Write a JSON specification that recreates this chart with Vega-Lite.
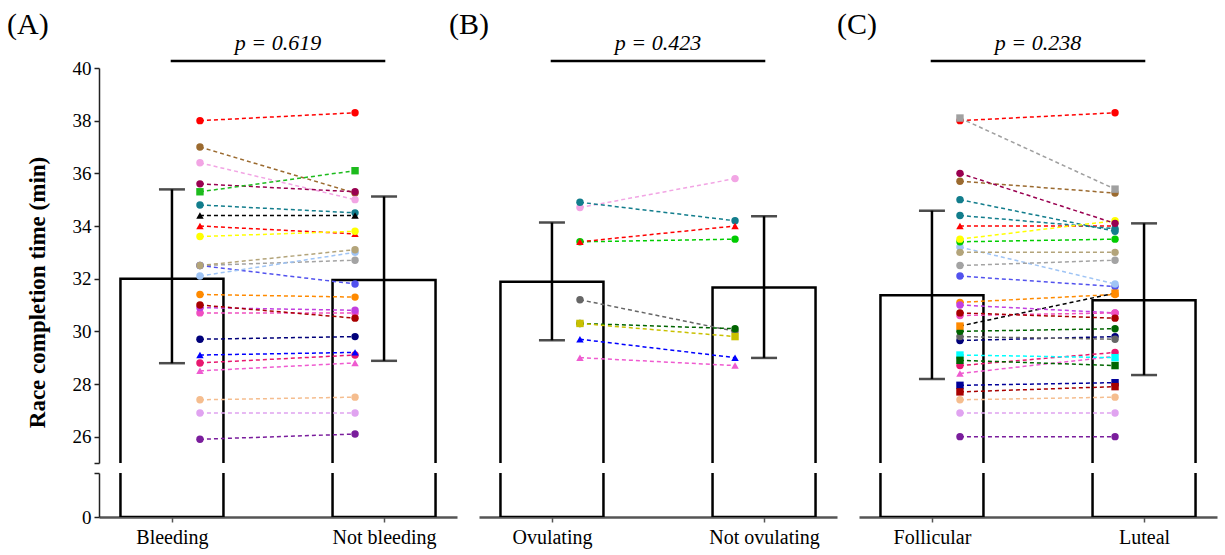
{
  "$schema": "https://vega.github.io/schema/vega-lite/v6.json",
  "background": "white",
  "padding": {"left": 7, "top": 10, "right": 5, "bottom": 5},
  "autosize": {"type": "pad"},
  "config": {
    "view": {"stroke": null},
    "axis": {"grid": false},
    "font": "Liberation Serif",
    "range": {
      "category": ["#ff0000","#9b6a2f","#f2a5e4","#990050","#1dbb1d","#127d8c","#000000","#ff0000","#ffff00","#b3a47a","#a3a3a3","#5252ee","#9fc4f5","#ff8a00","#a80000","#c23fe0","#f04fc0","#00007a","#0000ff","#e8186f","#ef5bd0","#f5bd8e","#e0a3f0","#7a1d9c","#00cc00","#666666","#006400","#c9c000","#a0a0a0","#ff8a00","#00ffff","#006600","#000099","#a80000","#127d8c"],
      "symbol": ["circle","circle","circle","circle","square","circle","triangle-up","triangle-up","circle","circle","circle","circle","circle","circle","circle","circle","circle","circle","triangle-up","circle","triangle-up","circle","circle","circle","circle","circle","circle","square","square","square","square","square","square","square","circle"]
    }
  },
  "datasets": {
    "bars": [
      {"p":"A","c":"Bleeding","mean":32.0,"lo":28.79,"hi":35.39},
      {"p":"A","c":"Not bleeding","mean":31.95,"lo":28.88,"hi":35.12},
      {"p":"B","c":"Ovulating","mean":31.88,"lo":29.66,"hi":34.13},
      {"p":"B","c":"Not ovulating","mean":31.66,"lo":28.99,"hi":34.37},
      {"p":"C","c":"Follicular","mean":31.37,"lo":28.19,"hi":34.58},
      {"p":"C","c":"Luteal","mean":31.18,"lo":28.34,"hi":34.1}
    ],
    "brk": [
      {"p":"A","c":"Bleeding","c2":"Not bleeding"},
      {"p":"B","c":"Ovulating","c2":"Not ovulating"},
      {"p":"C","c":"Follicular","c2":"Luteal"}
    ],
    "pts": [
      {"p":"A","c":"Bleeding","s":"s01","t":38.0},{"p":"A","c":"Not bleeding","s":"s01","t":38.3},
      {"p":"A","c":"Bleeding","s":"s02","t":37.0},{"p":"A","c":"Not bleeding","s":"s02","t":35.25},
      {"p":"A","c":"Bleeding","s":"s03","t":36.4},{"p":"A","c":"Not bleeding","s":"s03","t":35.0},
      {"p":"A","c":"Bleeding","s":"s04","t":35.6},{"p":"A","c":"Not bleeding","s":"s04","t":35.3},
      {"p":"A","c":"Bleeding","s":"s05","t":35.3},{"p":"A","c":"Not bleeding","s":"s05","t":36.1},
      {"p":"A","c":"Bleeding","s":"s06","t":34.8},{"p":"A","c":"Not bleeding","s":"s06","t":34.5},
      {"p":"A","c":"Bleeding","s":"s07","t":34.4},{"p":"A","c":"Not bleeding","s":"s07","t":34.4},
      {"p":"A","c":"Bleeding","s":"s08","t":34.0},{"p":"A","c":"Not bleeding","s":"s08","t":33.7},
      {"p":"A","c":"Bleeding","s":"s09","t":33.6},{"p":"A","c":"Not bleeding","s":"s09","t":33.8},
      {"p":"A","c":"Bleeding","s":"s11","t":32.5},{"p":"A","c":"Not bleeding","s":"s11","t":32.7},
      {"p":"A","c":"Bleeding","s":"s12","t":32.5},{"p":"A","c":"Not bleeding","s":"s12","t":31.8},
      {"p":"A","c":"Bleeding","s":"s13","t":32.1},{"p":"A","c":"Not bleeding","s":"s13","t":33.0},
      {"p":"A","c":"Bleeding","s":"s10","t":32.5},{"p":"A","c":"Not bleeding","s":"s10","t":33.1},
      {"p":"A","c":"Bleeding","s":"s14","t":31.4},{"p":"A","c":"Not bleeding","s":"s14","t":31.3},
      {"p":"A","c":"Bleeding","s":"s17","t":30.7},{"p":"A","c":"Not bleeding","s":"s17","t":30.7},
      {"p":"A","c":"Bleeding","s":"s16","t":30.9},{"p":"A","c":"Not bleeding","s":"s16","t":30.8},
      {"p":"A","c":"Bleeding","s":"s15","t":31.0},{"p":"A","c":"Not bleeding","s":"s15","t":30.5},
      {"p":"A","c":"Bleeding","s":"s18","t":29.7},{"p":"A","c":"Not bleeding","s":"s18","t":29.8},
      {"p":"A","c":"Bleeding","s":"s20","t":28.8},{"p":"A","c":"Not bleeding","s":"s20","t":29.1},
      {"p":"A","c":"Bleeding","s":"s19","t":29.1},{"p":"A","c":"Not bleeding","s":"s19","t":29.2},
      {"p":"A","c":"Bleeding","s":"s21","t":28.5},{"p":"A","c":"Not bleeding","s":"s21","t":28.8},
      {"p":"A","c":"Bleeding","s":"s22","t":27.4},{"p":"A","c":"Not bleeding","s":"s22","t":27.5},
      {"p":"A","c":"Bleeding","s":"s23","t":26.9},{"p":"A","c":"Not bleeding","s":"s23","t":26.9},
      {"p":"A","c":"Bleeding","s":"s24","t":25.9},{"p":"A","c":"Not bleeding","s":"s24","t":26.1},
      {"p":"B","c":"Ovulating","s":"s03","t":34.7},{"p":"B","c":"Not ovulating","s":"s03","t":35.8},
      {"p":"B","c":"Ovulating","s":"s06","t":34.9},{"p":"B","c":"Not ovulating","s":"s06","t":34.2},
      {"p":"B","c":"Ovulating","s":"s25","t":33.4},{"p":"B","c":"Not ovulating","s":"s25","t":33.5},
      {"p":"B","c":"Ovulating","s":"s08","t":33.4},{"p":"B","c":"Not ovulating","s":"s08","t":34.0},
      {"p":"B","c":"Ovulating","s":"s26","t":31.2},{"p":"B","c":"Not ovulating","s":"s26","t":30.0},
      {"p":"B","c":"Ovulating","s":"s27","t":30.3},{"p":"B","c":"Not ovulating","s":"s27","t":30.1},
      {"p":"B","c":"Ovulating","s":"s28","t":30.3},{"p":"B","c":"Not ovulating","s":"s28","t":29.8},
      {"p":"B","c":"Ovulating","s":"s19","t":29.7},{"p":"B","c":"Not ovulating","s":"s19","t":29.0},
      {"p":"B","c":"Ovulating","s":"s21","t":29.0},{"p":"B","c":"Not ovulating","s":"s21","t":28.7},
      {"p":"C","c":"Follicular","s":"s01","t":38.0},{"p":"C","c":"Luteal","s":"s01","t":38.3},
      {"p":"C","c":"Follicular","s":"s02","t":35.7},{"p":"C","c":"Luteal","s":"s02","t":35.25},
      {"p":"C","c":"Follicular","s":"s29","t":38.1},{"p":"C","c":"Luteal","s":"s29","t":35.4},
      {"p":"C","c":"Follicular","s":"s08","t":34.0},{"p":"C","c":"Luteal","s":"s08","t":34.0},
      {"p":"C","c":"Follicular","s":"s35","t":34.4},{"p":"C","c":"Luteal","s":"s35","t":33.9},
      {"p":"C","c":"Follicular","s":"s06","t":35.0},{"p":"C","c":"Luteal","s":"s06","t":33.8},
      {"p":"C","c":"Follicular","s":"s12","t":32.1},{"p":"C","c":"Luteal","s":"s12","t":31.7},
      {"p":"C","c":"Follicular","s":"s13","t":33.2},{"p":"C","c":"Luteal","s":"s13","t":31.8},
      {"p":"C","c":"Follicular","s":"s25","t":33.4},{"p":"C","c":"Luteal","s":"s25","t":33.5},
      {"p":"C","c":"Follicular","s":"s09","t":33.5},{"p":"C","c":"Luteal","s":"s09","t":34.2},
      {"p":"C","c":"Follicular","s":"s04","t":36.0},{"p":"C","c":"Luteal","s":"s04","t":34.1},
      {"p":"C","c":"Follicular","s":"s10","t":33.0},{"p":"C","c":"Luteal","s":"s10","t":33.0},
      {"p":"C","c":"Follicular","s":"s11","t":32.5},{"p":"C","c":"Luteal","s":"s11","t":32.7},
      {"p":"C","c":"Follicular","s":"s14","t":31.1},{"p":"C","c":"Luteal","s":"s14","t":31.4},
      {"p":"C","c":"Follicular","s":"s18","t":29.65},{"p":"C","c":"Luteal","s":"s18","t":29.8},
      {"p":"C","c":"Follicular","s":"s26","t":29.8},{"p":"C","c":"Luteal","s":"s26","t":29.7},
      {"p":"C","c":"Follicular","s":"s27","t":30.0},{"p":"C","c":"Luteal","s":"s27","t":30.1},
      {"p":"C","c":"Follicular","s":"s30","t":30.2},{"p":"C","c":"Luteal","s":"s30","t":31.45},
      {"p":"C","c":"Follicular","s":"s16","t":31.0},{"p":"C","c":"Luteal","s":"s16","t":30.7},
      {"p":"C","c":"Follicular","s":"s17","t":30.6},{"p":"C","c":"Luteal","s":"s17","t":30.7},
      {"p":"C","c":"Follicular","s":"s15","t":30.7},{"p":"C","c":"Luteal","s":"s15","t":30.5},
      {"p":"C","c":"Follicular","s":"s21","t":28.4},{"p":"C","c":"Luteal","s":"s21","t":29.05},
      {"p":"C","c":"Follicular","s":"s20","t":28.7},{"p":"C","c":"Luteal","s":"s20","t":29.2},
      {"p":"C","c":"Follicular","s":"s31","t":29.1},{"p":"C","c":"Luteal","s":"s31","t":29.0},
      {"p":"C","c":"Follicular","s":"s32","t":28.9},{"p":"C","c":"Luteal","s":"s32","t":28.7},
      {"p":"C","c":"Follicular","s":"s33","t":27.95},{"p":"C","c":"Luteal","s":"s33","t":28.05},
      {"p":"C","c":"Follicular","s":"s34","t":27.7},{"p":"C","c":"Luteal","s":"s34","t":27.9},
      {"p":"C","c":"Follicular","s":"s22","t":27.4},{"p":"C","c":"Luteal","s":"s22","t":27.5},
      {"p":"C","c":"Follicular","s":"s23","t":26.9},{"p":"C","c":"Luteal","s":"s23","t":26.9},
      {"p":"C","c":"Follicular","s":"s24","t":26.0},{"p":"C","c":"Luteal","s":"s24","t":26.0}
    ]
  },
  "bounds": "flush",
  "spacing": 380,
  "resolve": {"scale": {"x": "independent", "y": "independent"}},
  "hconcat": [
    {
      "bounds": "flush",
      "spacing": 10,
      "resolve": {"scale": {"x": "independent", "y": "independent"}},
      "title": {"text": "(A)", "anchor": "start", "frame": "group", "dx": -92, "fontSize": 30, "fontWeight": "normal", "font": "Liberation Serif", "color": "black", "offset": -8},
      "vconcat": [
        {
          "width": 358, "height": 395,
          "title": {"text": "p = 0.619", "anchor": "middle", "fontStyle": "italic", "fontWeight": "normal", "fontSize": 22, "font": "Liberation Serif", "color": "black", "offset": 4},
          "encoding": {"x": {"field": "c", "type": "nominal", "scale": {"type": "point", "padding": 0.344, "domain": ["Bleeding", "Not bleeding"]}, "axis": null}},
          "layer": [
            {"data": {"name": "bars"}, "transform": [{"filter": "datum.p == 'A'"}],
             "mark": {"type": "bar", "width": 103, "fillOpacity": 0, "stroke": "black", "strokeWidth": 2.5, "clip": true},
             "encoding": {"y": {"field": "mean", "type": "quantitative", "title": "Race completion time (min)", "scale": {"domain": [25, 40], "nice": false, "zero": false},
               "axis": {"title": "Race completion time (min)", "values": [25, 26, 28, 30, 32, 34, 36, 38, 40], "labelExpr": "datum.value == 25 ? '' : datum.label", "domainColor": "#222", "domainWidth": 1.5, "tickColor": "#222", "tickWidth": 1.5, "tickSize": 5, "labelFontSize": 19, "labelFont": "Liberation Serif", "labelColor": "black", "labelPadding": 3, "titleFont": "Liberation Serif", "titleFontSize": 23, "titleFontWeight": "bold", "titleColor": "black", "titleX": -50, "titleY": 224, "titleAngle": 270, "titleBaseline": "bottom", "titleAlign": "center"}},
               "y2": {"datum": 0}}},
            {"data": {"name": "bars"}, "transform": [{"filter": "datum.p == 'A'"}],
             "mark": {"type": "errorbar", "color": "black", "thickness": 2.5, "size": 26, "ticks": true},
             "encoding": {"y": {"field": "lo", "type": "quantitative", "title": "Race completion time (min)"}, "y2": {"field": "hi"}}},
            {"data": {"name": "pts"}, "transform": [{"filter": "datum.p == 'A'"}],
             "mark": {"type": "line", "strokeDash": [4, 3], "strokeWidth": 1.5, "clip": true, "xOffset": {"expr": "datum.c == 'Bleeding' ? 28 : -29"}},
             "encoding": {"y": {"field": "t", "type": "quantitative", "title": "Race completion time (min)"}, "stroke": {"condition": {"test": "datum.s == 's30'", "value": "black"}, "field": "s", "type": "nominal", "scale": {"domain": ["s01","s02","s03","s04","s05","s06","s07","s08","s09","s10","s11","s12","s13","s14","s15","s16","s17","s18","s19","s20","s21","s22","s23","s24","s25","s26","s27","s28","s29","s30","s31","s32","s33","s34","s35"]}, "legend": null}, "detail": {"field": "s", "type": "nominal"}}},
            {"data": {"name": "pts"}, "transform": [{"filter": "datum.p == 'A'"}],
             "mark": {"type": "point", "filled": true, "opacity": 1, "size": 55, "strokeWidth": 0, "clip": true, "xOffset": {"expr": "datum.c == 'Bleeding' ? 28 : -29"}},
             "encoding": {"y": {"field": "t", "type": "quantitative", "title": "Race completion time (min)"},
               "fill": {"field": "s", "type": "nominal", "scale": {"domain": ["s01","s02","s03","s04","s05","s06","s07","s08","s09","s10","s11","s12","s13","s14","s15","s16","s17","s18","s19","s20","s21","s22","s23","s24","s25","s26","s27","s28","s29","s30","s31","s32","s33","s34","s35"]}, "legend": null},
               "shape": {"field": "s", "type": "nominal", "scale": {"domain": ["s01","s02","s03","s04","s05","s06","s07","s08","s09","s10","s11","s12","s13","s14","s15","s16","s17","s18","s19","s20","s21","s22","s23","s24","s25","s26","s27","s28","s29","s30","s31","s32","s33","s34","s35"]}, "legend": null}}},
            {"data": {"name": "brk"}, "transform": [{"filter": "datum.p == 'A'"}],
             "mark": {"type": "rule", "strokeWidth": 2.5, "color": "black", "strokeCap": "square"},
             "encoding": {"x2": {"field": "c2"}, "y": {"datum": 40.27}}}
          ]
        },
        {
          "width": 358, "height": 44,
          "data": {"name": "bars"}, "transform": [{"filter": "datum.p == 'A'"}],
          "mark": {"type": "bar", "width": 103, "fillOpacity": 0, "stroke": "black", "strokeWidth": 2.5, "clip": true},
          "encoding": {
            "x": {"field": "c", "type": "nominal", "scale": {"type": "point", "padding": 0.344, "domain": ["Bleeding", "Not bleeding"]},
              "axis": {"title": null, "labelAngle": 0, "labelFontSize": 20, "labelFont": "Liberation Serif", "labelColor": "black", "labelPadding": 5, "domainColor": "#555", "domainWidth": 2.5, "tickColor": "#555", "tickWidth": 1.5, "tickSize": 5}},
            "y": {"field": "mean", "type": "quantitative", "scale": {"domain": [0, 1.65], "nice": false},
              "axis": {"title": null, "values": [0, 1.65], "labelExpr": "datum.value == 0 ? '0' : ''", "domainColor": "#222", "domainWidth": 1.5, "tickColor": "#222", "tickWidth": 1.5, "tickSize": 5, "labelFontSize": 19, "labelFont": "Liberation Serif", "labelColor": "black", "labelPadding": 3}},
            "y2": {"datum": 0}
          }
        }
      ]
    },
    {
      "bounds": "flush",
      "spacing": 10,
      "resolve": {"scale": {"x": "independent", "y": "independent"}},
      "title": {"text": "(B)", "anchor": "start", "frame": "group", "dx": -30, "fontSize": 30, "fontWeight": "normal", "font": "Liberation Serif", "color": "black", "offset": -8},
      "vconcat": [
        {
          "width": 358, "height": 395,
          "title": {"text": "p = 0.423", "anchor": "middle", "fontStyle": "italic", "fontWeight": "normal", "fontSize": 22, "font": "Liberation Serif", "color": "black", "offset": 4},
          "encoding": {"x": {"field": "c", "type": "nominal", "scale": {"type": "point", "padding": 0.344, "domain": ["Ovulating", "Not ovulating"]}, "axis": null}},
          "layer": [
            {"data": {"name": "bars"}, "transform": [{"filter": "datum.p == 'B'"}],
             "mark": {"type": "bar", "width": 103, "fillOpacity": 0, "stroke": "black", "strokeWidth": 2.5, "clip": true},
             "encoding": {"y": {"field": "mean", "type": "quantitative", "scale": {"domain": [25, 40], "nice": false, "zero": false}, "axis": null}, "y2": {"datum": 0}}},
            {"data": {"name": "bars"}, "transform": [{"filter": "datum.p == 'B'"}],
             "mark": {"type": "errorbar", "color": "black", "thickness": 2.5, "size": 26, "ticks": true},
             "encoding": {"y": {"field": "lo", "type": "quantitative"}, "y2": {"field": "hi"}}},
            {"data": {"name": "pts"}, "transform": [{"filter": "datum.p == 'B'"}],
             "mark": {"type": "line", "strokeDash": [4, 3], "strokeWidth": 1.5, "clip": true, "xOffset": {"expr": "datum.c == 'Ovulating' ? 28 : -29"}},
             "encoding": {"y": {"field": "t", "type": "quantitative"}, "stroke": {"condition": {"test": "datum.s == 's30'", "value": "black"}, "field": "s", "type": "nominal", "scale": {"domain": ["s01","s02","s03","s04","s05","s06","s07","s08","s09","s10","s11","s12","s13","s14","s15","s16","s17","s18","s19","s20","s21","s22","s23","s24","s25","s26","s27","s28","s29","s30","s31","s32","s33","s34","s35"]}, "legend": null}, "detail": {"field": "s", "type": "nominal"}}},
            {"data": {"name": "pts"}, "transform": [{"filter": "datum.p == 'B'"}],
             "mark": {"type": "point", "filled": true, "opacity": 1, "size": 55, "strokeWidth": 0, "clip": true, "xOffset": {"expr": "datum.c == 'Ovulating' ? 28 : -29"}},
             "encoding": {"y": {"field": "t", "type": "quantitative"},
               "fill": {"field": "s", "type": "nominal", "scale": {"domain": ["s01","s02","s03","s04","s05","s06","s07","s08","s09","s10","s11","s12","s13","s14","s15","s16","s17","s18","s19","s20","s21","s22","s23","s24","s25","s26","s27","s28","s29","s30","s31","s32","s33","s34","s35"]}, "legend": null},
               "shape": {"field": "s", "type": "nominal", "scale": {"domain": ["s01","s02","s03","s04","s05","s06","s07","s08","s09","s10","s11","s12","s13","s14","s15","s16","s17","s18","s19","s20","s21","s22","s23","s24","s25","s26","s27","s28","s29","s30","s31","s32","s33","s34","s35"]}, "legend": null}}},
            {"data": {"name": "brk"}, "transform": [{"filter": "datum.p == 'B'"}],
             "mark": {"type": "rule", "strokeWidth": 2.5, "color": "black", "strokeCap": "square"},
             "encoding": {"x2": {"field": "c2"}, "y": {"datum": 40.27}}}
          ]
        },
        {
          "width": 358, "height": 44,
          "data": {"name": "bars"}, "transform": [{"filter": "datum.p == 'B'"}],
          "mark": {"type": "bar", "width": 103, "fillOpacity": 0, "stroke": "black", "strokeWidth": 2.5, "clip": true},
          "encoding": {
            "x": {"field": "c", "type": "nominal", "scale": {"type": "point", "padding": 0.344, "domain": ["Ovulating", "Not ovulating"]},
              "axis": {"title": null, "labelAngle": 0, "labelFontSize": 20, "labelFont": "Liberation Serif", "labelColor": "black", "labelPadding": 5, "domainColor": "#555", "domainWidth": 2.5, "tickColor": "#555", "tickWidth": 1.5, "tickSize": 5}},
            "y": {"field": "mean", "type": "quantitative", "scale": {"domain": [0, 1.65], "nice": false}, "axis": null},
            "y2": {"datum": 0}
          }
        }
      ]
    },
    {
      "bounds": "flush",
      "spacing": 10,
      "resolve": {"scale": {"x": "independent", "y": "independent"}},
      "title": {"text": "(C)", "anchor": "start", "frame": "group", "dx": -22, "fontSize": 30, "fontWeight": "normal", "font": "Liberation Serif", "color": "black", "offset": -8},
      "vconcat": [
        {
          "width": 358, "height": 395,
          "title": {"text": "p = 0.238", "anchor": "middle", "fontStyle": "italic", "fontWeight": "normal", "fontSize": 22, "font": "Liberation Serif", "color": "black", "offset": 4},
          "encoding": {"x": {"field": "c", "type": "nominal", "scale": {"type": "point", "padding": 0.344, "domain": ["Follicular", "Luteal"]}, "axis": null}},
          "layer": [
            {"data": {"name": "bars"}, "transform": [{"filter": "datum.p == 'C'"}],
             "mark": {"type": "bar", "width": 103, "fillOpacity": 0, "stroke": "black", "strokeWidth": 2.5, "clip": true},
             "encoding": {"y": {"field": "mean", "type": "quantitative", "scale": {"domain": [25, 40], "nice": false, "zero": false}, "axis": null}, "y2": {"datum": 0}}},
            {"data": {"name": "bars"}, "transform": [{"filter": "datum.p == 'C'"}],
             "mark": {"type": "errorbar", "color": "black", "thickness": 2.5, "size": 26, "ticks": true},
             "encoding": {"y": {"field": "lo", "type": "quantitative"}, "y2": {"field": "hi"}}},
            {"data": {"name": "pts"}, "transform": [{"filter": "datum.p == 'C'"}],
             "mark": {"type": "line", "strokeDash": [4, 3], "strokeWidth": 1.5, "clip": true, "xOffset": {"expr": "datum.c == 'Follicular' ? 28 : -29"}},
             "encoding": {"y": {"field": "t", "type": "quantitative"}, "stroke": {"condition": {"test": "datum.s == 's30'", "value": "black"}, "field": "s", "type": "nominal", "scale": {"domain": ["s01","s02","s03","s04","s05","s06","s07","s08","s09","s10","s11","s12","s13","s14","s15","s16","s17","s18","s19","s20","s21","s22","s23","s24","s25","s26","s27","s28","s29","s30","s31","s32","s33","s34","s35"]}, "legend": null}, "detail": {"field": "s", "type": "nominal"}}},
            {"data": {"name": "pts"}, "transform": [{"filter": "datum.p == 'C'"}],
             "mark": {"type": "point", "filled": true, "opacity": 1, "size": 55, "strokeWidth": 0, "clip": true, "xOffset": {"expr": "datum.c == 'Follicular' ? 28 : -29"}},
             "encoding": {"y": {"field": "t", "type": "quantitative"},
               "fill": {"field": "s", "type": "nominal", "scale": {"domain": ["s01","s02","s03","s04","s05","s06","s07","s08","s09","s10","s11","s12","s13","s14","s15","s16","s17","s18","s19","s20","s21","s22","s23","s24","s25","s26","s27","s28","s29","s30","s31","s32","s33","s34","s35"]}, "legend": null},
               "shape": {"field": "s", "type": "nominal", "scale": {"domain": ["s01","s02","s03","s04","s05","s06","s07","s08","s09","s10","s11","s12","s13","s14","s15","s16","s17","s18","s19","s20","s21","s22","s23","s24","s25","s26","s27","s28","s29","s30","s31","s32","s33","s34","s35"]}, "legend": null}}},
            {"data": {"name": "brk"}, "transform": [{"filter": "datum.p == 'C'"}],
             "mark": {"type": "rule", "strokeWidth": 2.5, "color": "black", "strokeCap": "square"},
             "encoding": {"x2": {"field": "c2"}, "y": {"datum": 40.27}}}
          ]
        },
        {
          "width": 358, "height": 44,
          "data": {"name": "bars"}, "transform": [{"filter": "datum.p == 'C'"}],
          "mark": {"type": "bar", "width": 103, "fillOpacity": 0, "stroke": "black", "strokeWidth": 2.5, "clip": true},
          "encoding": {
            "x": {"field": "c", "type": "nominal", "scale": {"type": "point", "padding": 0.344, "domain": ["Follicular", "Luteal"]},
              "axis": {"title": null, "labelAngle": 0, "labelFontSize": 20, "labelFont": "Liberation Serif", "labelColor": "black", "labelPadding": 5, "domainColor": "#555", "domainWidth": 2.5, "tickColor": "#555", "tickWidth": 1.5, "tickSize": 5}},
            "y": {"field": "mean", "type": "quantitative", "scale": {"domain": [0, 1.65], "nice": false}, "axis": null},
            "y2": {"datum": 0}
          }
        }
      ]
    }
  ]
}
